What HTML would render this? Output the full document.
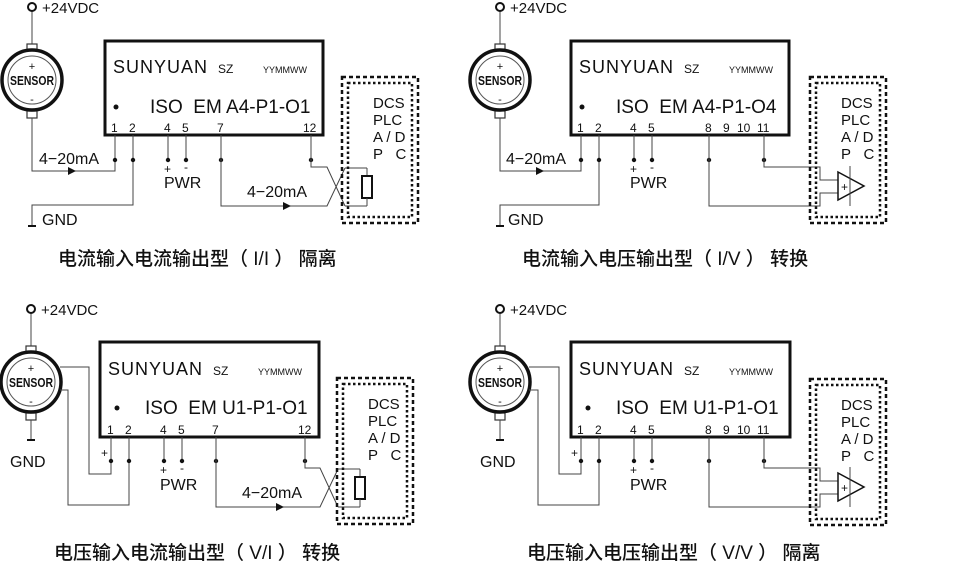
<!DOCTYPE html>
<html><head><meta charset="utf-8"><style>
html,body{margin:0;padding:0;background:#fff;}
svg{display:block;}
text{font-family:"Liberation Sans","Noto Sans CJK SC",sans-serif;fill:#111;}
.w{stroke:#444;stroke-width:1;fill:none;}
.cn{font-size:19px;font-weight:500;}
</style></head><body>
<svg width="968" height="564" viewBox="0 0 968 564" xmlns="http://www.w3.org/2000/svg">
<defs>
<g id="sensor">
  <line class="w" x1="0" y1="4" x2="0" y2="37"/>
  <circle cx="0" cy="0" r="4" fill="#fff" stroke="#111" stroke-width="2"/>
  <text x="10" y="6" font-size="15">+24VDC</text>
  <rect x="-5" y="37" width="10" height="6" fill="#fff" stroke="#333" stroke-width="1.2"/>
  <rect x="-5" y="104" width="10" height="7" fill="#fff" stroke="#333" stroke-width="1.2"/>
  <circle cx="0" cy="73" r="30" fill="#fff" stroke="#111" stroke-width="3.5"/>
  <circle cx="0" cy="73" r="24" fill="#fff" stroke="#555" stroke-width="1"/>
  <text x="0" y="63" font-size="11" text-anchor="middle">+</text>
  <text x="0" y="78" font-size="13" font-weight="bold" text-anchor="middle" textLength="44" lengthAdjust="spacingAndGlyphs">SENSOR</text>
  <text x="0" y="96" font-size="11" text-anchor="middle">-</text>
</g>
<g id="dcs">
  <rect x="0" y="0" width="76" height="146" fill="none" stroke="#111" stroke-width="2.5" stroke-dasharray="4,3"/>
  <rect x="6" y="6" width="64" height="134" fill="none" stroke="#111" stroke-width="2.5" stroke-dasharray="2.5,2.5"/>
  <text x="31" y="31" font-size="15">DCS</text>
  <text x="31" y="48" font-size="15">PLC</text>
  <text x="31" y="65" font-size="15">A / D</text>
  <text x="31" y="82" font-size="15">P&#160;&#160;&#160;C</text>
</g>
<g id="amp">
  <polygon points="0,0 26,14 0,28" fill="#fff" stroke="#111" stroke-width="1.5"/>
  <line class="w" x1="12" y1="-6" x2="12" y2="34"/>
  <text x="3" y="19" font-size="12">+</text>
</g>
<g id="res">
  <line class="w" x1="0" y1="0" x2="22" y2="0"/>
  <line class="w" x1="22" y1="0" x2="22" y2="8"/>
  <rect x="17" y="8" width="10" height="22" fill="#fff" stroke="#111" stroke-width="2"/>
  <line class="w" x1="22" y1="30" x2="22" y2="38"/>
  <line class="w" x1="22" y1="38" x2="0" y2="38"/>
</g>
</defs>

<!-- ============ Q1 ============ -->
<use href="#sensor" x="32" y="7"/>
<rect x="105" y="41" width="218" height="94" fill="#fff" stroke="#111" stroke-width="3"/>
<text x="113" y="73" font-size="18" letter-spacing="1">SUNYUAN</text><text x="218" y="73" font-size="12">SZ</text>
<text x="263" y="73" font-size="9">YYMMWW</text>
<circle cx="116" cy="107" r="2.5" fill="#111"/>
<text x="150" y="113" font-size="19">ISO&#160;&#160;EM A4-P1-O1</text>
<g font-size="12"><text x="111" y="132">1</text><text x="129" y="132">2</text><text x="164" y="132">4</text><text x="182" y="132">5</text><text x="217" y="132">7</text><text x="303" y="132">12</text></g>
<path class="w" d="M32 118 V171 H115 V135"/>
<polygon points="68,167 76,171 68,175" fill="#111"/>
<text x="39" y="164" font-size="16">4−20mA</text>
<path class="w" d="M133 135 V205 H32 V226"/>
<line x1="28" y1="226" x2="36" y2="226" stroke="#111" stroke-width="2"/>
<text x="42" y="225" font-size="16">GND</text>
<path class="w" d="M168 135 V160 M186 135 V160"/>
<g fill="#111"><circle cx="115" cy="160" r="2.2"/><circle cx="133" cy="160" r="2.2"/><circle cx="168" cy="160" r="2.2"/><circle cx="186" cy="160" r="2.2"/><circle cx="221" cy="160" r="2.2"/><circle cx="311" cy="160" r="2.2"/></g>
<text x="164" y="173" font-size="12">+</text><text x="184" y="171" font-size="12">-</text>
<text x="164" y="188" font-size="16">PWR</text>
<path class="w" d="M221 135 V206 H327 L345 168 M311 135 V167 H327 L345 206"/>
<polygon points="283,202 291,206 283,210" fill="#111"/>
<text x="247" y="197" font-size="16">4−20mA</text>
<use href="#res" x="345" y="168"/>
<use href="#dcs" x="342" y="77"/>
<text x="58" y="265" class="cn">电流输入电流输出型（ I/I ） 隔离</text>

<!-- ============ Q2 ============ -->
<use href="#sensor" x="500" y="7"/>
<rect x="571" y="41" width="218" height="94" fill="#fff" stroke="#111" stroke-width="3"/>
<text x="579" y="73" font-size="18" letter-spacing="1">SUNYUAN</text><text x="684" y="73" font-size="12">SZ</text>
<text x="729" y="73" font-size="9">YYMMWW</text>
<circle cx="582" cy="107" r="2.5" fill="#111"/>
<text x="616" y="113" font-size="19">ISO&#160;&#160;EM A4-P1-O4</text>
<g font-size="12"><text x="577" y="132">1</text><text x="595" y="132">2</text><text x="630" y="132">4</text><text x="648" y="132">5</text><text x="705" y="132">8</text><text x="723" y="132">9</text><text x="737" y="132">10</text><text x="757" y="132">11</text></g>
<path class="w" d="M500 118 V171 H581 V135"/>
<polygon points="536,167 544,171 536,175" fill="#111"/>
<text x="506" y="164" font-size="16">4−20mA</text>
<path class="w" d="M599 135 V205 H500 V226"/>
<line x1="496" y1="226" x2="504" y2="226" stroke="#111" stroke-width="2"/>
<text x="508" y="225" font-size="16">GND</text>
<path class="w" d="M634 135 V160 M652 135 V160"/>
<g fill="#111"><circle cx="581" cy="160" r="2.2"/><circle cx="599" cy="160" r="2.2"/><circle cx="634" cy="160" r="2.2"/><circle cx="652" cy="160" r="2.2"/><circle cx="709" cy="160" r="2.2"/><circle cx="764" cy="160" r="2.2"/></g>
<text x="630" y="173" font-size="12">+</text><text x="650" y="171" font-size="12">-</text>
<text x="630" y="188" font-size="16">PWR</text>
<path class="w" d="M764 135 V167 H820 V180 H838 M709 135 V206 H820 V193 H838"/>
<use href="#amp" x="838" y="172"/>
<use href="#dcs" x="810" y="77"/>
<text x="522" y="265" class="cn">电流输入电压输出型（ I/V ） 转换</text>

<!-- ============ Q3 ============ -->
<use href="#sensor" x="31" y="309"/>
<rect x="100" y="342" width="219" height="95" fill="#fff" stroke="#111" stroke-width="3"/>
<text x="108" y="375" font-size="18" letter-spacing="1">SUNYUAN</text><text x="213" y="375" font-size="12">SZ</text>
<text x="258" y="375" font-size="9">YYMMWW</text>
<circle cx="117" cy="408" r="2.5" fill="#111"/>
<text x="145" y="414" font-size="19">ISO&#160;&#160;EM U1-P1-O1</text>
<g font-size="12"><text x="107" y="434">1</text><text x="125" y="434">2</text><text x="160" y="434">4</text><text x="178" y="434">5</text><text x="212" y="434">7</text><text x="298" y="434">12</text></g>
<line x1="31" y1="420" x2="31" y2="440" class="w"/>
<line x1="27" y1="440" x2="35" y2="440" stroke="#111" stroke-width="2"/>
<text x="10" y="467" font-size="16">GND</text>
<path class="w" d="M60 367 H89 V474 H111 V437"/>
<text x="101" y="457" font-size="12">+</text>
<path class="w" d="M60 390 H68 V505 H129 V437"/>
<path class="w" d="M164 437 V461 M182 437 V461"/>
<g fill="#111"><circle cx="111" cy="461" r="2.2"/><circle cx="129" cy="461" r="2.2"/><circle cx="164" cy="461" r="2.2"/><circle cx="182" cy="461" r="2.2"/><circle cx="216" cy="461" r="2.2"/><circle cx="305" cy="461" r="2.2"/></g>
<text x="160" y="474" font-size="12">+</text><text x="180" y="472" font-size="12">-</text>
<text x="160" y="490" font-size="16">PWR</text>
<path class="w" d="M216 437 V507 H320 L338 469 M305 437 V468 H320 L338 507"/>
<polygon points="276,503 284,507 276,511" fill="#111"/>
<text x="242" y="498" font-size="16">4−20mA</text>
<use href="#res" x="338" y="469"/>
<use href="#dcs" x="337" y="378"/>
<text x="54" y="559" class="cn">电压输入电流输出型（ V/I ） 转换</text>

<!-- ============ Q4 ============ -->
<use href="#sensor" x="500" y="309"/>
<rect x="571" y="342" width="219" height="95" fill="#fff" stroke="#111" stroke-width="3"/>
<text x="579" y="375" font-size="18" letter-spacing="1">SUNYUAN</text><text x="684" y="375" font-size="12">SZ</text>
<text x="729" y="375" font-size="9">YYMMWW</text>
<circle cx="588" cy="408" r="2.5" fill="#111"/>
<text x="616" y="414" font-size="19">ISO&#160;&#160;EM U1-P1-O1</text>
<g font-size="12"><text x="577" y="434">1</text><text x="595" y="434">2</text><text x="630" y="434">4</text><text x="648" y="434">5</text><text x="705" y="434">8</text><text x="723" y="434">9</text><text x="737" y="434">10</text><text x="757" y="434">11</text></g>
<line x1="500" y1="420" x2="500" y2="440" class="w"/>
<line x1="496" y1="440" x2="504" y2="440" stroke="#111" stroke-width="2"/>
<text x="480" y="467" font-size="16">GND</text>
<path class="w" d="M529 367 H559 V474 H581 V437"/>
<text x="571" y="457" font-size="12">+</text>
<path class="w" d="M529 390 H538 V505 H599 V437"/>
<path class="w" d="M634 437 V461 M652 437 V461"/>
<g fill="#111"><circle cx="581" cy="461" r="2.2"/><circle cx="599" cy="461" r="2.2"/><circle cx="634" cy="461" r="2.2"/><circle cx="652" cy="461" r="2.2"/><circle cx="709" cy="461" r="2.2"/><circle cx="764" cy="461" r="2.2"/></g>
<text x="630" y="474" font-size="12">+</text><text x="650" y="472" font-size="12">-</text>
<text x="630" y="490" font-size="16">PWR</text>
<path class="w" d="M764 437 V468 H820 V481 H838 M709 437 V507 H820 V494 H838"/>
<use href="#amp" x="838" y="473"/>
<use href="#dcs" x="810" y="379"/>
<text x="527" y="559" class="cn">电压输入电压输出型（ V/V ） 隔离</text>
</svg>
</body></html>
